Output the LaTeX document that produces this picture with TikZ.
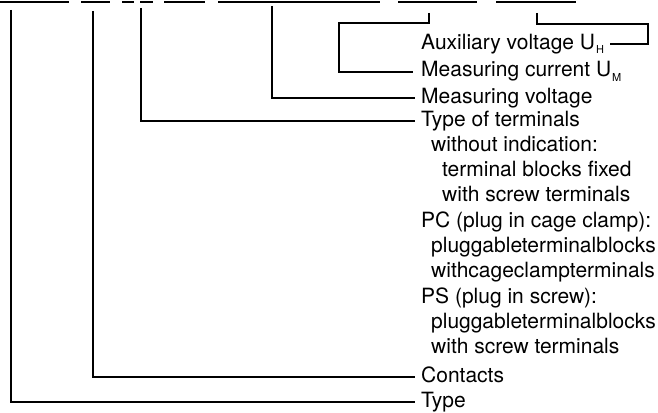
\documentclass[tikz,border=0pt]{standalone}
\usepackage{fontspec}
\setmainfont{TeX Gyre Heros}

\newcommand{\subidx}[1]{\kern1pt\raisebox{-5pt}{\fontsize{11}{11}\selectfont #1}}

\begin{document}
\begin{tikzpicture}[x=1pt, y=-1pt,
    lbl/.style={anchor=base west, inner sep=0pt, text height=10pt, text depth=0pt, font=\fontsize{21}{25}\selectfont},
    con/.style={line width=1.1pt},
    blank/.style={line width=1.2pt}
]
\useasboundingbox (0,0) rectangle (658,412);

% blanks of the type code
\draw[blank] (0,2) -- (69,2);
\draw[blank] (81,2) -- (110,2);
\draw[blank, line width=1.7pt] (122,2) -- (134,2);
\draw[blank, line width=1.7pt] (140,2) -- (153,2);
\draw[blank] (164,2) -- (205,2);
\draw[blank] (218,2) -- (380,2);
\draw[blank] (398,2) -- (477,2);
\draw[blank] (496,2) -- (576,2);

\coordinate (cType) at (11,10);
\coordinate (cCont) at (93,11);
\coordinate (cTerm) at (141,8);
\coordinate (cMV) at (272,6);
\coordinate (cMC) at (429,13);
\coordinate (cAux) at (537,13);

% labels
\node[lbl] (aux) at (421,49) {Auxiliary voltage U\subidx{H}};
\node[lbl] (mcur) at (421,77) {Measuring current U\subidx{M}};
\node[lbl] (mvolt) at (421,103) {Measuring voltage};
\node[lbl] (term) at (421,126) {Type of terminals};
\node[lbl] (t1) at (431,151.3) {without indication:};
\node[lbl] (t2) at (442,176.6) {terminal blocks fixed};
\node[lbl] (t3) at (442,201.9) {with screw terminals};
\node[lbl] (t4) at (421,227.2) {PC (plug in cage clamp):};
\node[lbl] (t5) at (431,252.5) {pluggableterminalblocks};
\node[lbl] (t6) at (431,277.8) {withcageclampterminals};
\node[lbl] (t7) at (421,303.1) {PS (plug in screw):};
\node[lbl] (t8) at (431,328.4) {pluggableterminalblocks};
\node[lbl] (t9) at (431,353.7) {with screw terminals};
\node[lbl] (cont) at (421,382) {Contacts};
\node[lbl] (type) at (421,407) {Type};

% connectors
\draw[con] (cAux) |- (648,24) |- ([xshift=6pt]aux.east);
\draw[con] (cMC) |- (339,23) |- ([xshift=-8pt]mcur.west);
\draw[con] (cMV) |- ([xshift=-6pt]mvolt.west);
\draw[con] (cTerm) |- ([xshift=-6pt]term.west);
\draw[con] (cCont) |- ([xshift=-6pt]cont.west);
\draw[con] (cType) |- ([xshift=-6pt]type.west);
\end{tikzpicture}
\end{document}
